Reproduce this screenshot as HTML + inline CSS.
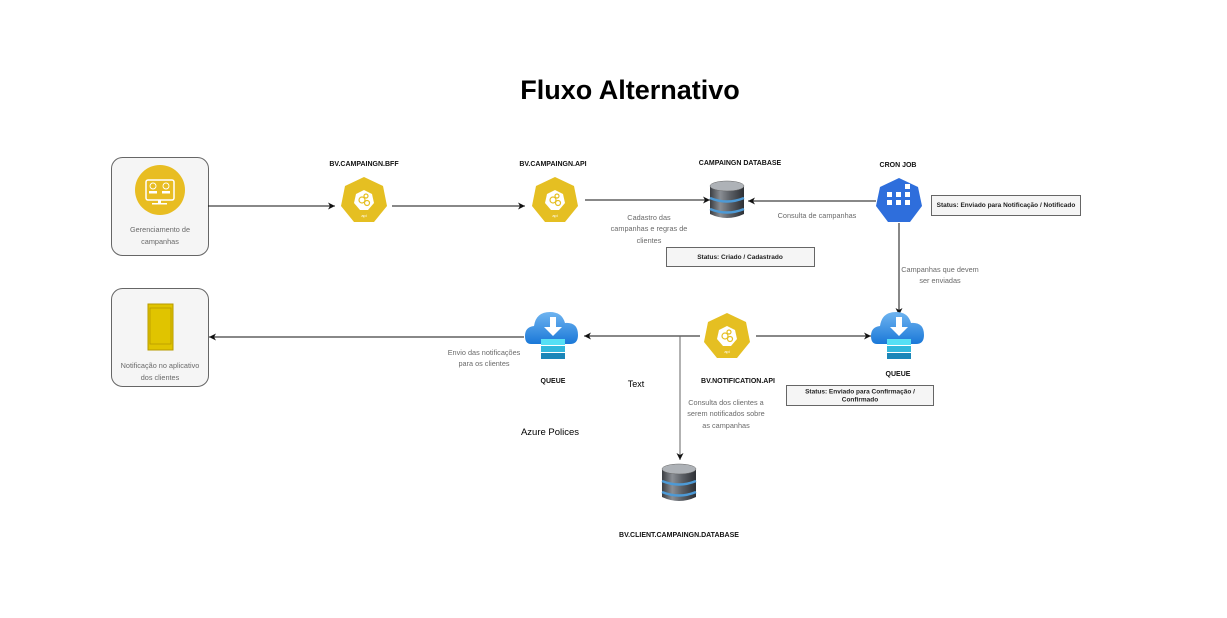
<!DOCTYPE html>
<html><head><meta charset="utf-8"><style>
html,body{margin:0;padding:0;background:#fff;}
svg{display:block;font-family:"Liberation Sans",Arial,sans-serif;}
.lbl{font-size:7px;font-weight:bold;fill:#111;text-anchor:middle;}
.sm{font-size:7.3px;fill:#6a6a6a;text-anchor:middle;}
.st{font-size:6.5px;font-weight:bold;fill:#222;text-anchor:middle;}
</style></head><body>
<svg width="1227" height="618" viewBox="0 0 1227 618" xmlns="http://www.w3.org/2000/svg">
<defs>
<marker id="ar" markerWidth="8" markerHeight="8" refX="7" refY="4" orient="auto" markerUnits="userSpaceOnUse">
<path d="M0,0.5 L7,4 L0,7.5 L2,4 Z" fill="#111"/></marker>
<linearGradient id="dbg" x1="0" x2="1"><stop offset="0" stop-color="#3a3d42"/><stop offset="0.3" stop-color="#8a8e94"/><stop offset="0.6" stop-color="#5b5f65"/><stop offset="1" stop-color="#2d3035"/></linearGradient>
<linearGradient id="cl" x1="0" y1="0" x2="0" y2="1"><stop offset="0" stop-color="#6fb4f0"/><stop offset="1" stop-color="#1a78d8"/></linearGradient>
<g id="api">
<polygon points="0,-24 19,-15 23,5 10,21 -10,21 -23,5 -19,-15" fill="#E5BF22"/>
<polygon points="0,-11 8,-7 10,2 4,9 -4,9 -10,2 -8,-7" fill="#fff"/>
<circle cx="-2" cy="-1" r="3" fill="none" stroke="#E5BF22" stroke-width="1.2"/>
<circle cx="3" cy="2" r="2.5" fill="none" stroke="#E5BF22" stroke-width="1.2"/>
<circle cx="2" cy="-5" r="2" fill="none" stroke="#E5BF22" stroke-width="1.2"/>
<text x="0" y="16" font-size="4" fill="#fff" text-anchor="middle">api</text>
</g>
<g id="db">
<path d="M-17,-14 L-17,14 Q0,22 17,14 L17,-14 Z" fill="url(#dbg)"/>
<ellipse cx="0" cy="-14" rx="17" ry="5" fill="#aeb2b7" stroke="#666" stroke-width="0.5"/>
<path d="M-17,-2 Q0,5 17,-2" stroke="#4d9ad6" stroke-width="2.5" fill="none"/>
<path d="M-17,9 Q0,16 17,9" stroke="#4d9ad6" stroke-width="2.5" fill="none"/>
</g>
<g id="q">
<path d="M-22,8 Q-28,8 -28,0 Q-28,-9 -19,-10 Q-17,-24 -3,-24 Q9,-24 12,-13 Q25,-14 25,-1 Q25,8 17,8 Z" fill="url(#cl)"/>
<rect x="-12" y="3" width="24" height="6" fill="#56e0f5"/>
<rect x="-12" y="10" width="24" height="6" fill="#32b8dc"/>
<rect x="-12" y="17" width="24" height="6" fill="#1b86b8"/>
<rect x="-3" y="-19" width="6" height="11" fill="#fff"/>
<polygon points="-9,-9 9,-9 0,0" fill="#fff"/>
</g>
</defs>

<text x="630" y="99" font-size="27" font-weight="bold" text-anchor="middle" fill="#000">Fluxo Alternativo</text>

<!-- box 1 -->
<rect x="111.5" y="157.5" width="97" height="98" rx="11" fill="#f5f5f5" stroke="#666"/>
<circle cx="160" cy="190" r="25" fill="#E8BD22"/>
<rect x="146" y="180" width="28" height="20" rx="2" fill="none" stroke="#fff" stroke-width="1.5"/>
<circle cx="153" cy="186" r="3" fill="none" stroke="#fff" stroke-width="0.9"/>
<circle cx="166" cy="186" r="3" fill="none" stroke="#fff" stroke-width="0.9"/>
<rect x="149" y="191" width="8" height="2.5" fill="#fff"/><rect x="162" y="191" width="8" height="2.5" fill="#fff"/>
<rect x="158" y="200" width="3" height="3" fill="#fff"/><rect x="152" y="203" width="15" height="1.5" fill="#fff"/>
<text class="sm" x="160" y="232">Gerenciamento de</text>
<text class="sm" x="160" y="244">campanhas</text>

<!-- box 2 -->
<rect x="111.5" y="288.5" width="97" height="98" rx="11" fill="#f5f5f5" stroke="#666"/>
<rect x="148" y="304" width="25" height="46" fill="#E0C400" stroke="#B89A00"/>
<rect x="150" y="308" width="21" height="36" fill="#E0C400" stroke="#B89A00" stroke-width="0.8"/>
<text class="sm" x="160" y="368">Notificação no aplicativo</text>
<text class="sm" x="160" y="380">dos clientes</text>

<!-- BFF / API -->
<use href="#api" x="364" y="201"/>
<text class="lbl" x="364" y="166">BV.CAMPAINGN.BFF</text>
<use href="#api" x="555" y="201"/>
<text class="lbl" x="553" y="166">BV.CAMPAINGN.API</text>

<line x1="208" y1="206" x2="335" y2="206" stroke="#111" marker-end="url(#ar)"/>
<line x1="392" y1="206" x2="525" y2="206" stroke="#111" marker-end="url(#ar)"/>
<line x1="585" y1="200" x2="710" y2="200" stroke="#111" marker-end="url(#ar)"/>

<use href="#db" x="727" y="200"/>
<text class="lbl" x="740" y="165">CAMPAINGN DATABASE</text>
<text class="sm" x="649" y="220">Cadastro das</text>
<text class="sm" x="649" y="231">campanhas e regras de</text>
<text class="sm" x="649" y="243">clientes</text>
<rect x="666.5" y="247.5" width="148" height="19" fill="#f5f5f5" stroke="#666"/>
<text class="st" x="740" y="259">Status: Criado / Cadastrado</text>

<!-- cron job -->
<polygon points="899,178 918,187 922,206 910,222 888,222 876,206 880,187" fill="#2E6EDC"/>
<g fill="#fff"><rect x="905" y="184" width="5" height="5"/>
<rect x="887" y="192" width="5" height="5"/><rect x="896" y="192" width="5" height="5"/><rect x="905" y="192" width="5" height="5"/>
<rect x="887" y="200" width="5" height="5"/><rect x="896" y="200" width="5" height="5"/><rect x="905" y="200" width="5" height="5"/></g>
<text class="lbl" x="898" y="167">CRON JOB</text>
<line x1="876" y1="201" x2="748" y2="201" stroke="#111" marker-end="url(#ar)"/>
<text class="sm" x="817" y="218">Consulta de campanhas</text>
<rect x="931.5" y="195.5" width="149" height="20" fill="#f5f5f5" stroke="#666"/>
<text class="st" x="1006" y="207">Status: Enviado para Notificação / Notificado</text>

<line x1="899" y1="223" x2="899" y2="315" stroke="#111" marker-end="url(#ar)"/>
<text class="sm" x="940" y="272">Campanhas que devem</text>
<text class="sm" x="940" y="283">ser enviadas</text>

<use href="#q" x="899" y="336"/>
<text class="lbl" x="898" y="376">QUEUE</text>
<rect x="786.5" y="385.5" width="147" height="20" fill="#f5f5f5" stroke="#666"/>
<text class="st" x="860" y="393.5">Status: Enviado para Confirmação /</text>
<text class="st" x="860" y="401.5">Confirmado</text>

<use href="#api" x="727" y="337"/>
<text class="lbl" x="738" y="383">BV.NOTIFICATION.API</text>
<line x1="756" y1="336" x2="871" y2="336" stroke="#111" marker-end="url(#ar)"/>
<line x1="700" y1="336" x2="584" y2="336" stroke="#111" marker-end="url(#ar)"/>
<line x1="680" y1="336" x2="680" y2="460" stroke="#666" marker-end="url(#ar)"/>
<text class="sm" x="726" y="405">Consulta dos clientes a</text>
<text class="sm" x="726" y="416">serem notificados sobre</text>
<text class="sm" x="726" y="428">as campanhas</text>

<use href="#q" x="553" y="336"/>
<text class="lbl" x="553" y="383">QUEUE</text>
<line x1="524" y1="337" x2="209" y2="337" stroke="#111" marker-end="url(#ar)"/>
<text class="sm" x="484" y="355">Envio das notificações</text>
<text class="sm" x="484" y="366">para os clientes</text>

<text x="636" y="387" font-size="9" text-anchor="middle" fill="#000">Text</text>
<text x="550" y="435" font-size="9.5" text-anchor="middle" fill="#000">Azure Polices</text>

<use href="#db" x="679" y="483"/>
<text class="lbl" x="679" y="537">BV.CLIENT.CAMPAINGN.DATABASE</text>
</svg>
</body></html>
